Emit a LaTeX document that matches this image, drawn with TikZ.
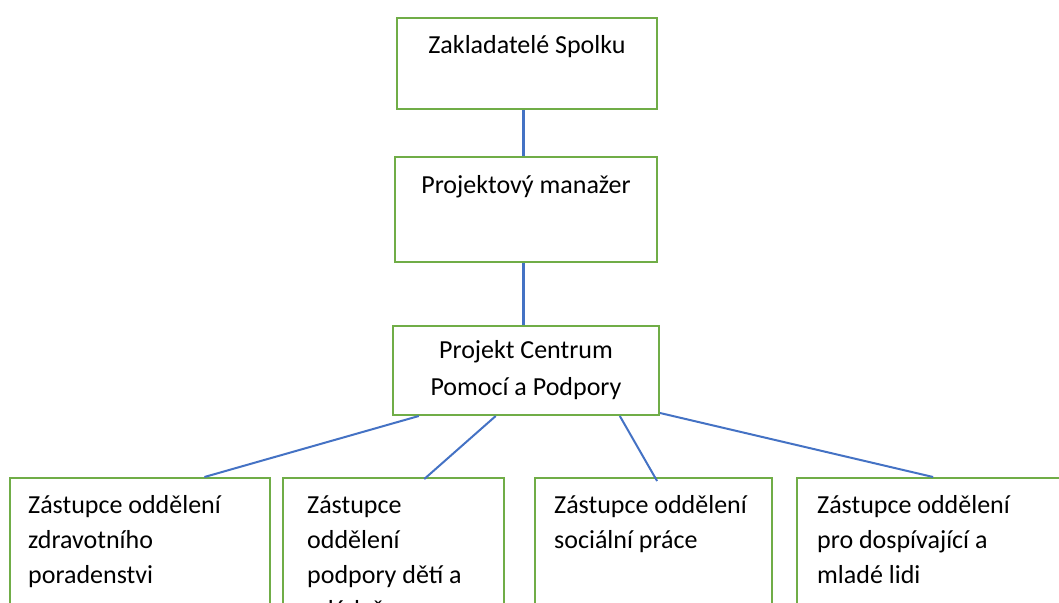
\documentclass[tikz,border=0pt]{standalone}
\usepackage{fontspec}
\setmainfont{Carlito}
\usetikzlibrary{calc}
\definecolor{ramecek}{RGB}{112, 173, 71}
\definecolor{spoj}{RGB}{68, 114, 196}

\begin{document}
\begin{tikzpicture}[x=1pt, y=-1pt,
	orgbox/.style={draw=ramecek, line width=2pt, anchor=north west, inner sep=0pt}, % ramecky
	boxtext/.style={inner sep=0pt, font=\fontsize{26}{35}\selectfont}, % texty v rameckach
	spojnice/.style={draw=spoj, line width=2pt}, % modre cary
	]
\useasboundingbox (0,0) rectangle (1059,602);
\clip (0,0) rectangle (1059,602);
% horni cast
\node[orgbox, minimum width=260pt, minimum height=91pt] (zakl) at (396,17) {};
\node[orgbox, minimum width=262pt, minimum height=105pt] (manazer) at (394,156) {};
\node[orgbox, minimum width=266pt, minimum height=89pt] (projekt) at (392,325) {};
% oddeleni
\node[orgbox, minimum width=260pt, minimum height=200pt] (zdravi) at (9,477) {};
\node[orgbox, minimum width=221pt, minimum height=200pt] (deti) at (282,477) {};
\node[orgbox, minimum width=237pt, minimum height=200pt] (socialni) at (534,477) {};
\node[orgbox, minimum width=270pt, minimum height=200pt] (mladez) at (796,477) {};
% texty (base = posledni radek)
\node[boxtext, anchor=base] (zakl text) at ($(zakl.north)+(0,36)$) {Zakladatelé Spolku};
\node[boxtext, anchor=base] (manazer text) at ($(manazer.north)+(0,37)$) {Projektový manažer};
\node[boxtext, anchor=base, align=center, font=\fontsize{26}{37}\selectfont] (projekt text) at ($(projekt.north)+(0,70)$) {Projekt Centrum\\Pomocí a Podpory};
\node[boxtext, anchor=base west, align=left] (zdravi text) at ($(zdravi.north west)+(19,106)$) {Zástupce oddělení\\zdravotního\\poradenstvi};
\node[boxtext, anchor=base west, align=left] (deti text) at ($(deti.north west)+(25,141)$) {Zástupce\\oddělení\\podpory dětí a\\mládeže};
\node[boxtext, anchor=base west, align=left] (socialni text) at ($(socialni.north west)+(20,71)$) {Zástupce oddělení\\sociální práce};
\node[boxtext, anchor=base west, align=left] (mladez text) at ($(mladez.north west)+(21,106)$) {Zástupce oddělení\\pro dospívající a\\mladé lidi};
% spojnice
\draw[spojnice, line width=3pt] ($(zakl.south west)!0.485!(zakl.south east)$) coordinate (z1) -- (z1 |- manazer.north);
\draw[spojnice, line width=3pt] ($(manazer.south west)!0.489!(manazer.south east)$) coordinate (m1) -- (m1 |- projekt.north);
\draw[spojnice] ($(projekt.south west)!0.10!(projekt.south east)$) -- ($(zdravi.north west)!0.746!(zdravi.north east)$);
\draw[spojnice] ($(projekt.south west)!0.387!(projekt.south east)$) -- ($(deti.north west)!0.638!(deti.north east)+(0,2)$);
\draw[spojnice] ($(projekt.south west)!0.85!(projekt.south east)$) -- ($(socialni.north west)!0.515!(socialni.north east)+(0,4)$);
\draw[spojnice] ($(projekt.south east)+(0,-3)$) -- ($(mladez.north west)!0.504!(mladez.north east)$);
\end{tikzpicture}
\end{document}
